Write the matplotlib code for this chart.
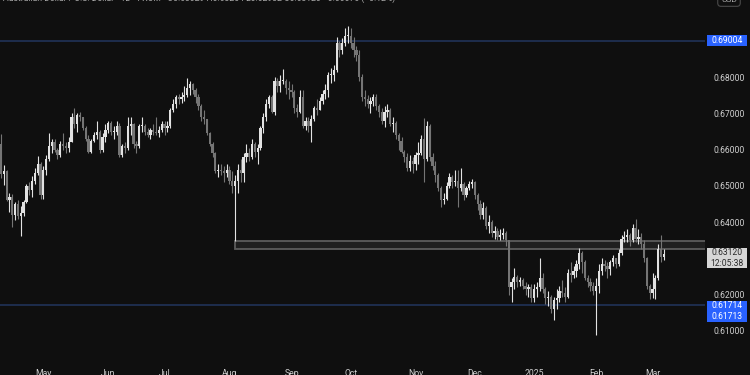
import numpy as np
import pandas as pd
import matplotlib
matplotlib.use('Agg')
import matplotlib.pyplot as plt
from matplotlib.patches import Rectangle

# AUD/USD daily candles, Apr 10 2024 - Mar 7 2025
first_open = 0.6616

closes = [
    # Apr
    .6532, .6540, .6462, .6470, .6421, .6451, .6418, .6425, .6455, .6500, .6490, .6515, .6535, .6560, .6475,
    # May
    .6545, .6575, .6610, .6620, .6600, .6585, .6615, .6610, .6605, .6620, .6690, .6670, .6695, .6690, .6660,
    .6630, .6595, .6625, .6640, .6650, .6600, .6635, .6655,
    # Jun
    .6675, .6650, .6650, .6665, .6585, .6610, .6605, .6665, .6670, .6615, .6610, .6665, .6665, .6650, .6640,
    .6655, .6650, .6645, .6655, .6670,
    # Jul
    .6660, .6665, .6710, .6725, .6745, .6740, .6745, .6750, .6770, .6780, .6765, .6745, .6720, .6690, .6685,
    .6645, .6615, .6590, .6540, .6545, .6540, .6535, .6545,
    # Aug
    .6515, .6500, .6515, .6545, .6535, .6580, .6590, .6580, .6615, .6595, .6605, .6660, .6690, .6725, .6745,
    .6705, .6790, .6775, .6790, .6790, .6770, .6765,
    # Sep
    .6760, .6715, .6705, .6745, .6665, .6680, .6665, .6685, .6715, .6710, .6735, .6755, .6765, .6805, .6805,
    .6820, .6895, .6875, .6895, .6915, .6915,
    # Oct
    .6895, .6875, .6860, .6800, .6745, .6740, .6725, .6735, .6745, .6720, .6705, .6680, .6705, .6710, .6670,
    .6675, .6640, .6625, .6595, .6580, .6550, .6570, .6560,
    # Nov
    .6585, .6590, .6630, .6575, .6665, .6580, .6555, .6530, .6495, .6460, .6465, .6500, .6525, .6510, .6515,
    .6495, .6505, .6475, .6495, .6505, .6510,
    # Dec
    .6475, .6450, .6420, .6440, .6390, .6400, .6370, .6375, .6360, .6365, .6370, .6350, .6220, .6235, .6250,
    .6235, .6240, .6225, .6215, .6220, .6190,
    # Jan
    .6215, .6220, .6245, .6215, .6190, .6195, .6160, .6185, .6190, .6210, .6205, .6195, .6260, .6255, .6265,
    .6285, .6315, .6290, .6245, .6235, .6225, .6210,
    # Feb
    .6225, .6265, .6285, .6280, .6270, .6290, .6300, .6285, .6315, .6355, .6360, .6365, .6350, .6385, .6355,
    .6360, .6340, .6300, .6225, .6205,
    # Mar
    .6215, .6245, .6325, .6305, .6312,
]

highs = [
    .6644, .6557, .6545, .6480, .6478, .6455, .6460, .6445, .6462, .6505, .6510, .6528, .6550, .6582, .6565,
    .6555, .6585, .6647, .6630, .6630, .6605, .6625, .6645, .6620, .6635, .6700, .6714, .6700, .6705, .6690,
    .6665, .6640, .6630, .6650, .6680, .6655, .6645, .6670,
    .6680, .6680, .6665, .6680, .6675, .6615, .6620, .6690, .6690, .6675, .6625, .6670, .6690, .6670, .6660,
    .6660, .6670, .6690, .6665, .6680,
    .6680, .6680, .6715, .6740, .6750, .6755, .6760, .6775, .6798, .6790, .6785, .6770, .6755, .6725, .6710,
    .6685, .6650, .6620, .6595, .6560, .6560, .6555, .6560,
    .6555, .6540, .6530, .6560, .6575, .6590, .6615, .6605, .6630, .6620, .6615, .6665, .6700, .6740, .6750,
    .6750, .6800, .6798, .6805, .6824, .6795, .6790,
    .6780, .6765, .6725, .6765, .6765, .6690, .6690, .6695, .6720, .6740, .6745, .6765, .6780, .6815, .6825,
    .6835, .6910, .6900, .6907, .6935, .6942,
    .6935, .6910, .6885, .6875, .6810, .6765, .6750, .6745, .6755, .6755, .6725, .6715, .6720, .6725, .6715,
    .6690, .6680, .6645, .6635, .6600, .6590, .6585, .6580,
    .6595, .6620, .6640, .6688, .6680, .6670, .6590, .6570, .6535, .6500, .6480, .6510, .6535, .6530, .6545,
    .6545, .6550, .6510, .6500, .6515, .6520,
    .6515, .6480, .6460, .6455, .6445, .6420, .6405, .6390, .6385, .6380, .6385, .6375, .6350, .6247, .6275,
    .6255, .6250, .6245, .6235, .6230, .6230,
    .6230, .6235, .6301, .6260, .6220, .6210, .6200, .6195, .6215, .6225, .6240, .6220, .6270, .6290, .6280,
    .6295, .6330, .6320, .6295, .6255, .6245, .6235,
    .6245, .6285, .6300, .6295, .6290, .6295, .6310, .6300, .6325, .6365, .6375, .6380, .6370, .6395, .6408,
    .6380, .6370, .6350, .6305, .6230,
    .6260, .6255, .6340, .6364, .6325,
]

lows = [
    .6521, .6503, .6458, .6428, .6387, .6405, .6410, .6362, .6418, .6452, .6475, .6470, .6505, .6530, .6465,
    .6465, .6530, .6570, .6590, .6595, .6575, .6580, .6600, .6590, .6595, .6620, .6660, .6650, .6680, .6655,
    .6625, .6590, .6590, .6620, .6630, .6590, .6595, .6620,
    .6645, .6640, .6630, .6640, .6580, .6580, .6590, .6600, .6640, .6605, .6590, .6605, .6650, .6640, .6635,
    .6630, .6640, .6640, .6635, .6650,
    .6640, .6650, .6660, .6705, .6715, .6725, .6730, .6735, .6745, .6750, .6755, .6730, .6710, .6680, .6670,
    .6640, .6610, .6580, .6535, .6525, .6530, .6510, .6525,
    .6505, .6480, .6348, .6480, .6510, .6510, .6565, .6570, .6575, .6580, .6560, .6600, .6645, .6680, .6715,
    .6700, .6695, .6760, .6760, .6780, .6755, .6740,
    .6745, .6700, .6690, .6700, .6660, .6655, .6650, .6622, .6680, .6695, .6710, .6725, .6740, .6745, .6785,
    .6790, .6815, .6855, .6865, .6885, .6895,
    .6880, .6855, .6845, .6790, .6735, .6720, .6715, .6701, .6720, .6710, .6690, .6670, .6663, .6690, .6665,
    .6650, .6630, .6600, .6590, .6565, .6540, .6540, .6535,
    .6545, .6560, .6585, .6512, .6570, .6570, .6545, .6510, .6485, .6442, .6450, .6460, .6495, .6495, .6500,
    .6442, .6485, .6460, .6470, .6490, .6495,
    .6465, .6435, .6410, .6410, .6380, .6370, .6360, .6355, .6350, .6350, .6355, .6335, .6200, .6180, .6215,
    .6220, .6225, .6215, .6200, .6195, .6180,
    .6180, .6195, .6210, .6205, .6175, .6170, .6150, .6131, .6160, .6180, .6195, .6180, .6190, .6235, .6245,
    .6250, .6270, .6260, .6240, .6220, .6210, .6200,
    .6088, .6205, .6255, .6265, .6245, .6255, .6280, .6275, .6280, .6310, .6345, .6345, .6335, .6345, .6345,
    .6340, .6325, .6290, .6215, .6187,
    .6190, .6187, .6240, .6290, .6295,
]

# horizontal levels, zone and labels
level_top = 0.69004
level_bottom = [0.61714, 0.61713]
zone = (0.63254, 0.63489)
zone_start = '2024-08-05'
last_price = '0.63120'
countdown = '12:05:38'
header = ('Australian Dollar / U.S. Dollar · 1D · FXCM   O0.63029 H0.63254 '
          'L0.62932 C0.63120 +0.00076 (+0.12%)')
price_ticks = [0.61, 0.62, 0.64, 0.65, 0.66, 0.67, 0.68]

dates = pd.bdate_range('2024-04-10', '2025-03-07')
dates = dates[~dates.isin(pd.to_datetime(['2024-12-25', '2025-01-01']))]
assert len(dates) == len(closes) == len(highs) == len(lows)

closes = np.array(closes)
opens = np.concatenate([[first_open], closes[:-1]])
highs = np.maximum(np.array(highs), np.maximum(opens, closes))
lows = np.minimum(np.array(lows), np.minimum(opens, closes))
x = np.arange(len(dates))
up = closes >= opens

plt.rcParams['font.family'] = ['Roboto', 'DejaVu Sans']

bg = '#0f0f0f'
up_col = '#e2e2e2'
down_col = '#757575'
txt_col = '#cfcfcf'

W, H = 750, 375
fig = plt.figure(figsize=(7.5, 3.75), dpi=100, facecolor=bg)
ax = fig.add_axes([0, 15 / H, 705 / W, 360 / H], facecolor=bg)

# zone rectangle
z0 = int(np.where(dates == pd.Timestamp(zone_start))[0][0])
ax.add_patch(Rectangle((z0, zone[0]), 260 - z0, zone[1] - zone[0],
                       facecolor='#1f1f1f', edgecolor='#5c5c5c', lw=1.3, zorder=1))

# levels
ax.axhline(level_top, color='#22355e', lw=1.1, zorder=1)
ax.axhline(level_bottom[0], color='#22355e', lw=1.1, zorder=1)

# candles
cols = np.where(up, up_col, down_col)
ax.vlines(x, lows, highs, colors=cols, lw=0.8, zorder=2)
body_lo = np.minimum(opens, closes)
body_h = np.maximum(np.abs(closes - opens), 0.00028)
ax.bar(x, body_h, bottom=body_lo, width=0.8, color=cols, edgecolor='none', zorder=3)

ax.set_xlim(-0.36, 249.6)
ax.set_ylim(0.6020, 0.70131)

for s in ax.spines.values():
    s.set_visible(False)

ax.yaxis.tick_right()
ax.set_yticks(price_ticks)
ax.set_yticklabels([f'{v:.5f}' for v in price_ticks])
ax.tick_params(axis='y', length=0, pad=6, labelsize=6.2, labelcolor=txt_col)

month_start = [i for i in range(1, len(dates)) if dates[i].month != dates[i - 1].month]
month_lbl = ['2025' if dates[i].month == 1 else dates[i].strftime('%b') for i in month_start]
ax.set_xticks(month_start)
ax.set_xticklabels(month_lbl)
ax.tick_params(axis='x', length=0, pad=6.5, labelsize=6.2, labelcolor=txt_col)

# price labels on the axis
fig.canvas.draw()


def px_y(price):
    return ax.transData.transform((0, price))[1]


def axis_box(y_center, h, fc, lines, tc):
    y0 = y_center - h / 2
    fig.add_artist(Rectangle((707 / W, y0 / H), 40 / W, h / H, transform=fig.transFigure,
                             facecolor=fc, edgecolor='none', zorder=5))
    fig.text(727 / W, y_center / H, lines, ha='center', va='center', fontsize=6.2,
             color=tc, linespacing=1.2, zorder=6)


axis_box(px_y(level_top), 11, '#2962ff', f'{level_top:.5f}', 'white')
axis_box(px_y(level_bottom[0]) - 6, 21, '#2962ff',
         f'{level_bottom[0]:.5f}\n{level_bottom[1]:.5f}', 'white')
axis_box(px_y(float(last_price)) - 4, 20, '#d6d6d6', f'{last_price}\n{countdown}', '#2a2a2a')

# header line and currency box, both cut at the top edge
fig.text(3 / W, 1.004, header, ha='left', va='center', fontsize=6.2, color='#a8a8a8')
fig.text(729 / W, 1.0, 'USD', ha='center', va='center', fontsize=6, color='#a8a8a8',
         bbox=dict(boxstyle='round,pad=0.4', fc=bg, ec='#4a4a4a', lw=0.8))

fig.savefig('out.png', dpi=100, facecolor=bg)
